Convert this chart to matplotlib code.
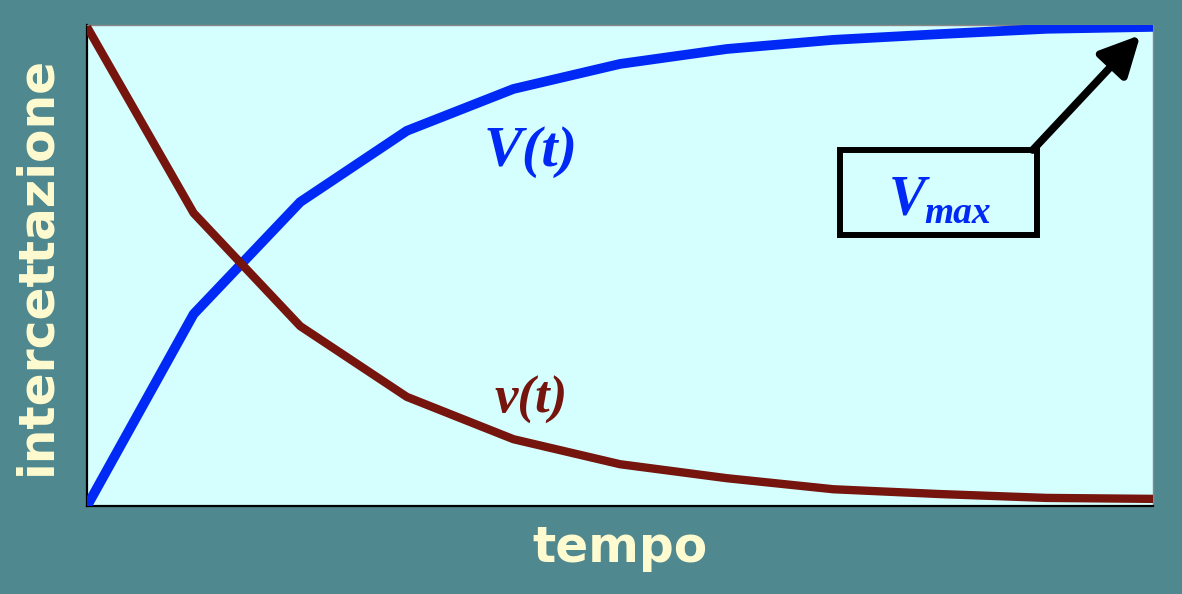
import matplotlib
matplotlib.use('Agg')
import matplotlib.pyplot as plt
from matplotlib.patches import Rectangle

# time steps and the two curves (percent of axis height)
tempo = [0, 1, 2, 3, 4, 5, 6, 7, 8, 9, 10]
V_t = [0, 39.9, 63.2, 78.0, 86.7, 91.9, 95.0, 96.9, 98.1, 99.2, 99.6]
v_t = [99.6, 60.9, 37.4, 22.7, 13.9, 8.7, 5.8, 3.5, 2.5, 1.7, 1.5]

bg = '#4f888e'
cream = '#fffbd0'
blue = '#0029f5'
red = '#76140e'

fig = plt.figure(figsize=(11.82, 5.94), dpi=100, facecolor=bg)
ax = fig.add_axes([0.0736, 0.148, 0.902, 0.810])
ax.set_facecolor('#d5ffff')

ax.plot(tempo, V_t, color=blue, lw=7, solid_capstyle='butt', zorder=3)
ax.plot(tempo, v_t, color=red, lw=6, solid_capstyle='butt', zorder=3)

ax.set_xlim(0, 10)
ax.set_ylim(0, 100)
ax.set_xticks([])
ax.set_yticks([])
for s in ['left', 'bottom']:
    ax.spines[s].set_color('black')
    ax.spines[s].set_linewidth(1.6)
for s in ['top', 'right']:
    ax.spines[s].set_color('#888888')
    ax.spines[s].set_linewidth(1.0)

ax.set_xlabel('tempo', fontsize=35, fontweight='bold', color=cream, labelpad=13)
ax.set_ylabel('intercettazione', fontsize=35, fontweight='bold', color=cream, labelpad=19)

font = dict(family='Liberation Serif', style='italic', weight='bold')
ax.text(4.16, 73.5, 'V(t)', color=blue, ha='center', va='center', fontsize=42, **font)
ax.text(4.17, 22, 'v(t)', color=red, ha='center', va='center', fontsize=38, **font)

# Vmax box with arrow
ax.add_patch(Rectangle((7.06, 56.3), 1.85, 17.7, fill=False, ec='black', lw=4.3, zorder=4))
ax.text(7.52, 60.6, 'V', color=blue, ha='left', va='baseline', fontsize=40, zorder=5, **font)
ax.text(7.85, 58.8, 'max', color=blue, ha='left', va='baseline', fontsize=27, zorder=5, **font)
ax.annotate('', xy=(9.88, 97.9), xytext=(8.87, 74.0),
            arrowprops=dict(arrowstyle='-|>,head_length=1.2,head_width=0.6', color='black', lw=5.5,
                            mutation_scale=20, shrinkA=0, shrinkB=0))

fig.savefig('out.png', dpi=100, facecolor=bg)
